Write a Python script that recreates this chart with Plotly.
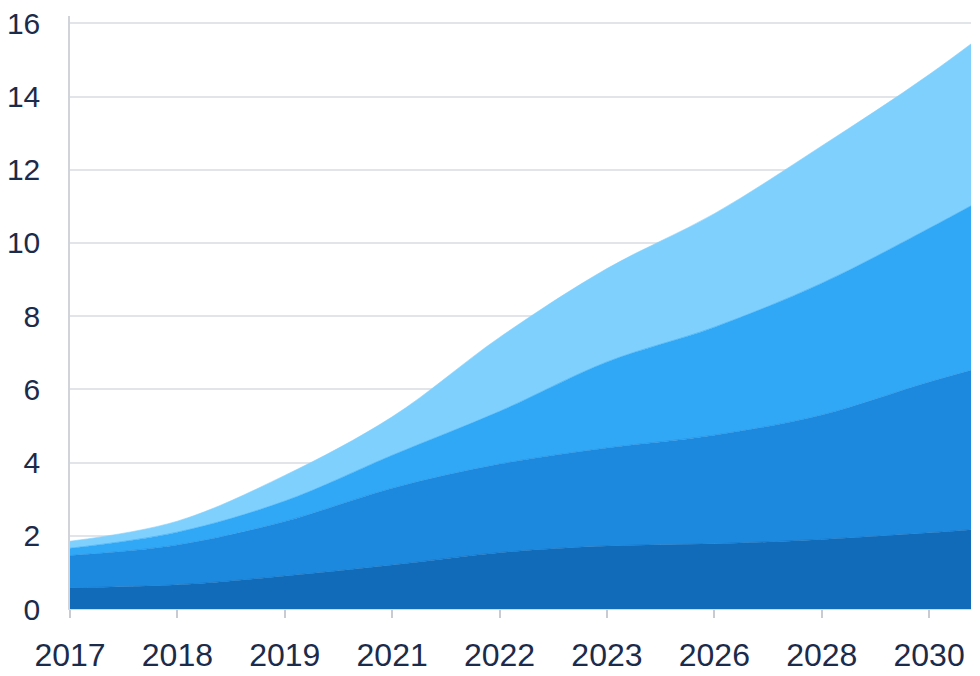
import plotly.graph_objects as go

# Category labels shown on the x axis (one extra unlabeled trailing point continues the curve to the edge)
x_labels = ["2017", "2018", "2019", "2021", "2022", "2023", "2026", "2028", "2030"]
x_pos = [0, 1, 2, 3, 4, 5, 6, 7, 8, 9]

# Stacked layer values (bottom to top)
layer1 = [0.58, 0.66, 0.90, 1.20, 1.54, 1.72, 1.78, 1.90, 2.08, 2.30]
layer2 = [0.88, 1.09, 1.49, 2.10, 2.42, 2.68, 2.97, 3.40, 4.12, 4.70]
layer3 = [0.20, 0.35, 0.56, 0.90, 1.44, 2.35, 2.95, 3.60, 4.20, 5.00]
layer4 = [0.19, 0.30, 0.70, 1.05, 2.02, 2.55, 3.10, 3.75, 4.20, 4.80]

y_ticks = [0, 2, 4, 6, 8, 10, 12, 14, 16]

colors = ["#116bb9", "#1c88de", "#31a8f6", "#80d0fd"]

fig = go.Figure()
for vals, col in zip([layer1, layer2, layer3, layer4], colors):
    fig.add_trace(go.Scatter(
        x=x_pos, y=vals, mode="lines", stackgroup="one",
        line=dict(width=0.6, color=col, shape="spline", smoothing=1.0),
        fillcolor=col, hoverinfo="skip", showlegend=False,
    ))

font_col = "#1b2b4b"
fig.update_layout(
    width=980, height=676,
    margin=dict(l=62, r=17, t=8, b=75),
    paper_bgcolor="white", plot_bgcolor="white",
    font=dict(family="Liberation Sans, Arial, sans-serif", size=32, color=font_col),
    showlegend=False,
)
fig.update_xaxes(
    range=[0, 8.39], tickmode="array", tickvals=x_pos[:len(x_labels)], ticktext=x_labels,
    showgrid=False, zeroline=False, showline=True, linecolor="#d5d9df", linewidth=1,
    ticks="outside", ticklen=8, tickcolor="#c8ccd2", tickwidth=1.5,
    ticklabelstandoff=10, automargin=False, ticklabeloverflow="allow",
)
fig.update_yaxes(
    range=[0, 16.2], tickmode="array", tickvals=y_ticks,
    showgrid=True, gridcolor="#e1e4e8", gridwidth=1.5, zeroline=False,
    showline=True, linecolor="#d0d4da", linewidth=1.5,
    ticks="", ticklabelstandoff=22, automargin=False, ticklabeloverflow="allow",
    tickfont=dict(size=30),
)

fig.write_html("out.html")
